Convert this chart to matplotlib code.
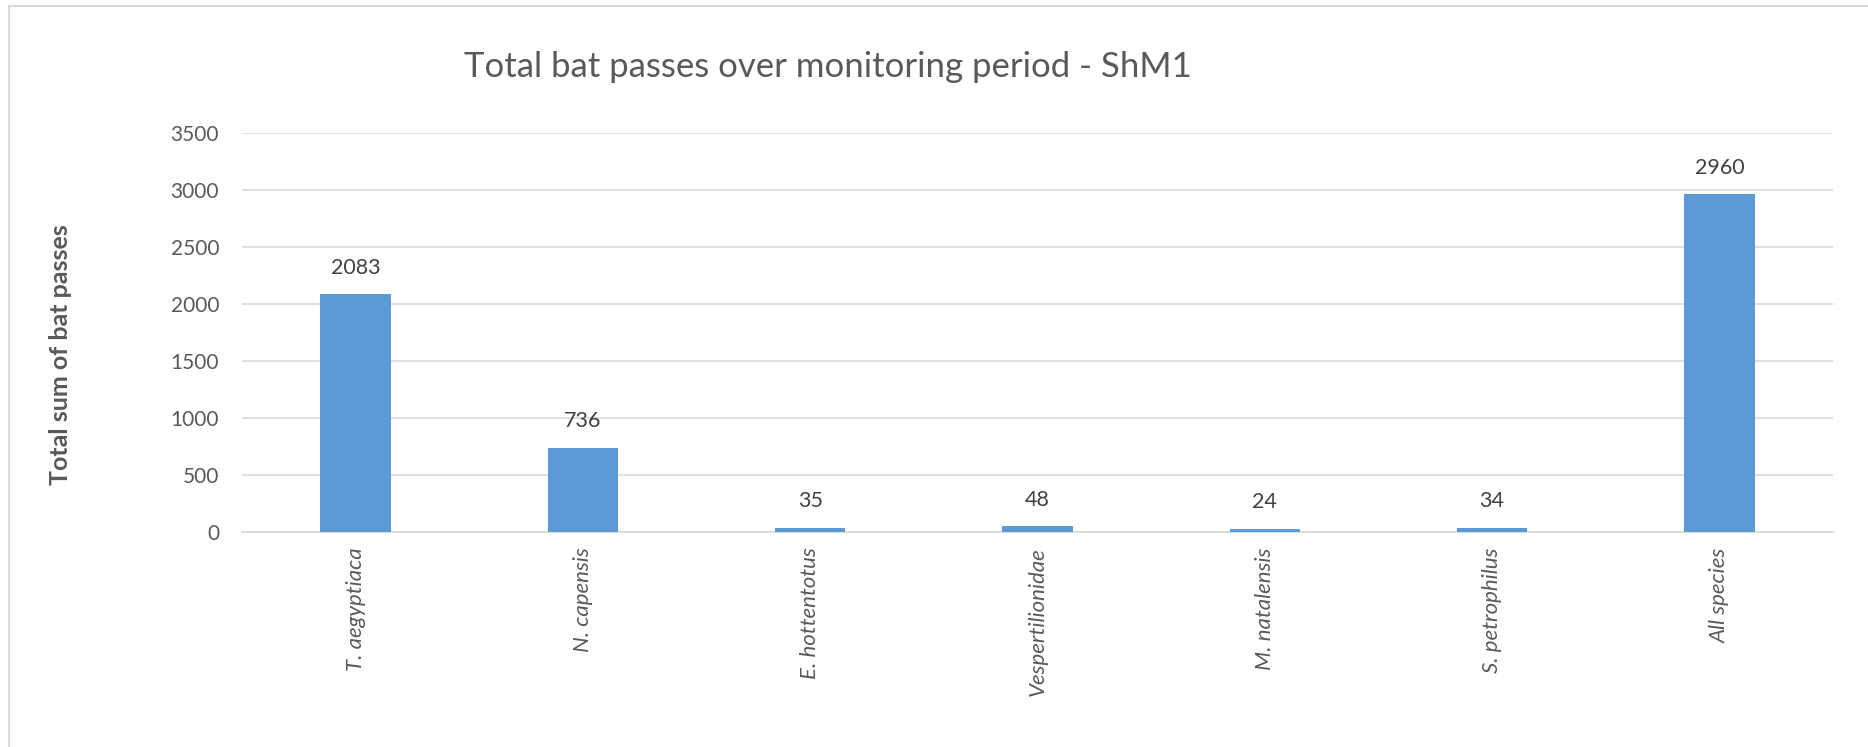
import matplotlib
matplotlib.use("Agg")
import matplotlib.pyplot as plt
from matplotlib.lines import Line2D

categories = ["T. aegyptiaca", "N. capensis", "E. hottentotus", "Vespertilionidae",
              "M. natalensis", "S. petrophilus", "All species"]
values = [2083, 736, 35, 48, 24, 34, 2960]
yticks = [0, 500, 1000, 1500, 2000, 2500, 3000, 3500]

plt.rcParams['font.family'] = ['Lato', 'DejaVu Sans']

W, H = 1868, 747
fig = plt.figure(figsize=(W / 100, H / 100), dpi=100)
ax = fig.add_axes([242 / W, 1 - 531.7 / H, (1833 - 242) / W, (531.7 - 132.7) / H])

x = list(range(len(categories)))
ax.bar(x, values, width=0.31, color="#5B9BD5", zorder=3)
ax.set_xlim(-0.5, len(categories) - 0.5)
ax.set_ylim(0, 3500)
ax.set_yticks(yticks)
ax.set_yticklabels([str(t) for t in yticks])
ax.set_xticks(x)
ax.set_xticklabels(categories, rotation=90, fontstyle="italic", va="top", ha="center")

for i, v in zip(x, values):
    ax.annotate(str(v), (i, v), xytext=(0, 12), textcoords="offset points",
                ha="center", va="bottom", fontsize=15.5, color="#404040")

ax.grid(axis="y", color="#d9d9d9", linewidth=1.2, zorder=0)
for s in ["top", "right", "left"]:
    ax.spines[s].set_visible(False)
ax.spines["bottom"].set_color("#d9d9d9")
ax.spines["bottom"].set_linewidth(1.2)
ax.tick_params(axis="y", length=0, pad=16.5, labelsize=15, labelcolor="#595959")
ax.tick_params(axis="x", length=0, pad=11.5, labelsize=16, labelcolor="#595959")

fig.text(828 / W, 1 - 77 / H, "Total bat passes over monitoring period - ShM1",
         ha="center", va="baseline", fontsize=25, color="#595959")
fig.text(60 / W, 1 - 355 / H, "Total sum of bat passes", rotation=90,
         ha="center", va="center", fontsize=18, fontweight="bold", color="#595959")

# outer chart border (left and top visible)
fig.add_artist(Line2D([9 / W, 9 / W], [0, 1 - 6 / H], transform=fig.transFigure,
                      color="#d9d9d9", linewidth=1.5))
fig.add_artist(Line2D([9 / W, 1], [1 - 6 / H, 1 - 6 / H], transform=fig.transFigure,
                      color="#d9d9d9", linewidth=1.5))

fig.savefig("out.png", dpi=100, facecolor="white")
